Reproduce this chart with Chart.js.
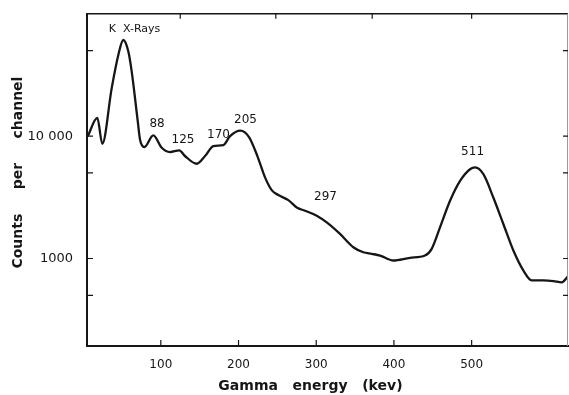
<!DOCTYPE html>
<html>
<head>
<meta charset="utf-8">
<script src="https://cdn.jsdelivr.net/npm/chart.js@4"></script>
<style>
  body { margin: 0; background: #fff; }
</style>
</head>
<body>
<canvas id="spectrum" width="569" height="395"></canvas>
<script>
// Gamma spectrum (energy in keV, counts per channel)
const energy = [6, 18.3, 24.7, 36.8, 45.3, 51.7, 58.2, 62.5, 70.3, 73.2, 78.8, 90.3, 101.2, 111.8, 123.8,
  131.1, 146.2, 156.9, 167.6, 180.4, 189.1, 202.3, 213.5, 224.5, 234.1, 242.7, 251.2, 264.1, 274.9,
  285.6, 300.6, 313.5, 330.6, 347.7, 360.6, 371.4, 382.1, 399.2, 420.7, 440, 448.6, 459.3, 472.2,
  485.1, 497.9, 504.4, 515.1, 527.9, 540.8, 553.7, 566.5, 577.3, 592.3, 605.2, 616, 624]
const counts = [10000, 14090, 8660, 24700, 46100, 61100, 49100, 33800, 13240, 9400, 8140, 10130, 8030, 7410, 7650,
  6880, 5950, 6880, 8290, 8450, 10000, 11080, 9815, 6810, 4600, 3620, 3300, 3000, 2610,
  2455, 2237, 1972, 1588, 1236, 1125, 1092, 1057, 963, 1013, 1057, 1199, 1796, 2962,
  4306, 5362, 5545, 4883, 3150, 1914, 1161, 798, 662, 662, 654, 638, 714]

const xTickValues = [100, 200, 300, 400, 500]
const topTickValues = [125, 248, 372, 500]
const yTickValues = [500, 1000, 5000, 10000, 50000]
const yTickLabels = ['', '1000', '', '10 000', '']

// peak labels, anchored at (keV, counts)
const peakText = ['K  X-Rays', '88', '125', '170', '205', '297', '511']
const peakX = [66.2, 95.1, 128.6, 174.3, 209, 312, 501.2]
const peakY = [74800, 12630, 9370, 10190, 13620, 3162, 7410]

const ink = '#161616'

//frame on top/right, inward tick marks and the peak labels
const frameTicks = {
  id: 'frameTicks',
  afterDraw(chart) {
    const ctx = chart.ctx
    const a = chart.chartArea
    const x = chart.scales.x
    const y = chart.scales.y
    ctx.save()
    ctx.strokeStyle = ink
    ctx.lineWidth = 1.6
    ctx.beginPath()
    ctx.moveTo(a.left, a.top)
    ctx.lineTo(a.right, a.top)
    ctx.stroke()
    ctx.strokeStyle = '#9a9a9a'
    ctx.lineWidth = 1
    ctx.beginPath()
    ctx.moveTo(a.right - 0.5, a.top)
    ctx.lineTo(a.right - 0.5, a.bottom)
    ctx.stroke()

    ctx.strokeStyle = ink
    ctx.lineWidth = 1.2
    ctx.beginPath()
    yTickValues.forEach(v => {
      const py = y.getPixelForValue(v)
      ctx.moveTo(a.left, py); ctx.lineTo(a.left + 6, py)
      ctx.moveTo(a.right, py); ctx.lineTo(a.right - 5, py)
    })
    xTickValues.forEach(v => {
      const px = x.getPixelForValue(v)
      ctx.moveTo(px, a.bottom); ctx.lineTo(px, a.bottom - 6)
    })
    topTickValues.forEach(v => {
      const px = x.getPixelForValue(v)
      ctx.moveTo(px, a.top); ctx.lineTo(px, a.top + 5)
    })
    ctx.stroke()

    ctx.fillStyle = ink
    ctx.textAlign = 'center'
    ctx.textBaseline = 'middle'
    peakText.forEach((t, i) => {
      ctx.font = i == 0 ? '11px "DejaVu Sans"' : '12px "DejaVu Sans"'
      ctx.fillText(t, x.getPixelForValue(peakX[i]), y.getPixelForValue(peakY[i]))
    })
    ctx.restore()
  }
}

new Chart(document.getElementById('spectrum'), {
  type: 'line',
  data: {
    datasets: [{
      data: energy.map((e, i) => ({ x: e, y: counts[i] })),
      borderColor: ink,
      borderWidth: 2.3,
      pointRadius: 0,
      cubicInterpolationMode: 'monotone',
      fill: false
    }]
  },
  options: {
    responsive: false,
    animation: false,
    layout: { padding: { top: 12, right: 1, left: 0, bottom: 0 } },
    plugins: { legend: { display: false }, tooltip: { enabled: false } },
    scales: {
      x: {
        type: 'linear',
        min: 5,
        max: 624,
        afterBuildTicks: s => { s.ticks = xTickValues.map(v => ({ value: v })) },
        afterFit: s => { s.height = 49 },
        grid: { display: false },
        border: { display: true, color: ink, width: 2 },
        ticks: {
          padding: 4,
          color: ink,
          font: { family: 'DejaVu Sans', size: 12 },
          maxRotation: 0
        },
        title: {
          display: true,
          text: 'Gamma   energy   (kev)       ',
          color: ink,
          font: { family: 'DejaVu Sans', size: 14, weight: 'bold' },
          padding: { top: 0, bottom: 0 }
        }
      },
      y: {
        type: 'logarithmic',
        min: 192.6,
        max: 100000,
        afterBuildTicks: s => { s.ticks = yTickValues.map(v => ({ value: v })) },
        afterFit: s => { s.width = 87 },
        grid: { display: false },
        border: { display: true, color: ink, width: 2 },
        ticks: {
          padding: 6,
          color: ink,
          font: { family: 'DejaVu Sans', size: 13 },
          callback: (v, i) => yTickLabels[yTickValues.indexOf(v)] ?? ''
        },
        title: {
          display: true,
          text: '   Counts     per     channel',
          color: ink,
          font: { family: 'DejaVu Sans', size: 14, weight: 'bold' },
          padding: { top: 10, bottom: 0 }
        }
      }
    }
  },
  plugins: [frameTicks]
})
</script>
</body>
</html>
